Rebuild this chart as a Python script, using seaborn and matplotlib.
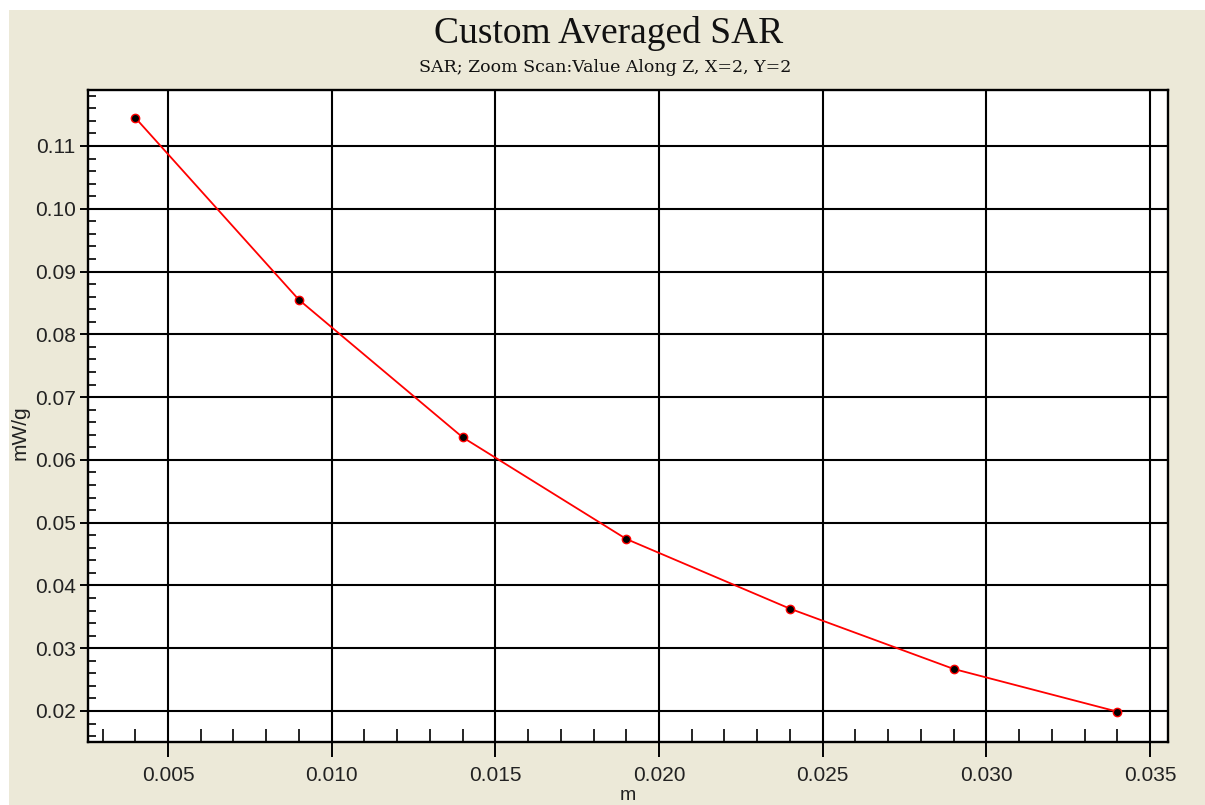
import matplotlib
matplotlib.use("Agg")
import matplotlib.pyplot as plt
from matplotlib.patches import Rectangle
from matplotlib.ticker import MultipleLocator, FormatStrFormatter
import seaborn as sns
import pandas as pd

# Data
depth_m = [0.004, 0.009, 0.014, 0.019, 0.024, 0.029, 0.034]
sar_mw_g = [0.1145, 0.0855, 0.0636, 0.0474, 0.0363, 0.0267, 0.0199]

title = "Custom Averaged SAR"
subtitle = "SAR; Zoom Scan:Value Along Z, X=2, Y=2"
x_label = "m"
y_label = "mW/g"

sns.set_theme(style="white")
plt.rcParams['font.family'] = ['Liberation Sans', 'DejaVu Sans']

W, H = 1205, 805
fig = plt.figure(figsize=(W / 100, H / 100), dpi=100)
fig.patch.set_facecolor("#ECE9D8")
# white strips at top and left (window frame)
fig.add_artist(Rectangle((0, 1 - 10 / H), 1, 10 / H, transform=fig.transFigure,
                         facecolor="white", edgecolor="none", zorder=0))
fig.add_artist(Rectangle((0, 0), 9 / W, 1, transform=fig.transFigure,
                         facecolor="white", edgecolor="none", zorder=0))

ax = fig.add_axes([88 / W, 1 - 742 / H, (1168 - 88) / W, (742 - 90) / H])
ax.set_facecolor("white")

df = pd.DataFrame({"x": depth_m, "y": sar_mw_g})
sns.lineplot(data=df, x="x", y="y", ax=ax, color="#FF0000", linewidth=1.3,
             marker="o", markersize=6, markerfacecolor="black",
             markeredgecolor="#FF0000", markeredgewidth=1.0, zorder=5)

ax.set_xlim(0.002556, 0.03555)
ax.set_ylim(0.01506, 0.11892)

ax.xaxis.set_major_locator(MultipleLocator(0.005))
ax.xaxis.set_minor_locator(MultipleLocator(0.001))
ax.yaxis.set_major_locator(MultipleLocator(0.01))
ax.yaxis.set_minor_locator(MultipleLocator(0.002))
ax.xaxis.set_major_formatter(FormatStrFormatter("%.3f"))
ax.yaxis.set_major_formatter(FormatStrFormatter("%.2f"))

ax.grid(True, which="major", color="black", linewidth=1.5)
ax.set_axisbelow(True)
for s in ax.spines.values():
    s.set_color("black")
    s.set_linewidth(1.7)
    s.set_visible(True)

ax.tick_params(axis="x", which="major", direction="out", length=11, width=1.4,
               color="black", labelsize=15, labelcolor="#222222", pad=6, bottom=True)
ax.tick_params(axis="x", which="minor", direction="in", length=9.5, width=1.2,
               color="black", bottom=True, top=False)
ax.tick_params(axis="y", which="major", direction="out", length=6, width=1.4,
               color="black", labelsize=15, labelcolor="#222222", pad=3, left=True)
ax.tick_params(axis="y", which="minor", direction="in", length=6, width=1.2,
               color="black", left=True, right=False)

ax.set_xlabel(x_label, fontsize=14, color="#222222")
ax.set_ylabel(y_label, fontsize=15, color="#222222")
ax.xaxis.set_label_coords(0.5, -0.089)
ax.xaxis.label.set_va("baseline")
ax.yaxis.set_label_coords(-0.054, 0.475)

fig.text(609 / W, 1 - 43 / H, title, ha="center", va="baseline",
         fontsize=27, family=["Liberation Serif"], color="#111111")
fig.text(605 / W, 1 - 72 / H, subtitle, ha="center", va="baseline",
         fontsize=12.5, family=["DejaVu Serif"], color="#111111")

fig.savefig("out.png", dpi=100, facecolor=fig.get_facecolor())
